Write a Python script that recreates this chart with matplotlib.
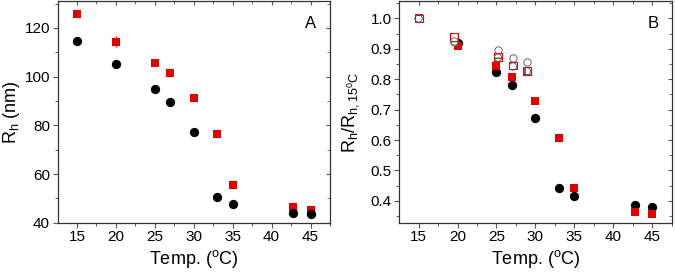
import matplotlib
matplotlib.use("Agg")
import matplotlib.pyplot as plt
from matplotlib.ticker import MultipleLocator

plt.rcParams['font.family'] = ['Liberation Sans', 'DejaVu Sans']
plt.rcParams['mathtext.fontset'] = 'custom'
plt.rcParams['mathtext.rm'] = 'Liberation Sans'
plt.rcParams['mathtext.it'] = 'Liberation Sans'
plt.rcParams['hatch.linewidth'] = 0.8

# Panel A data
temp = [15, 20, 25, 27, 30, 33, 35, 42.8, 45]
rh_black = [114.8, 105.1, 94.8, 89.5, 77.3, 50.7, 47.8, 44.2, 43.7]
rh_red = [125.6, 114.3, 105.6, 101.3, 91.4, 76.6, 55.7, 46.3, 45.2]
rh_red_err = [0, 2.3, 0, 0, 0, 0, 0, 0, 0]

# Panel B data
norm_black = [1.0, 0.918, 0.825, 0.781, 0.673, 0.441, 0.416, 0.386, 0.379]
norm_red = [1.0, 0.910, 0.842, 0.806, 0.728, 0.608, 0.443, 0.364, 0.357]
temp_open = [15, 19.6, 25.2, 27.1, 28.9]
open_grey_upper = [1.0, 0.922, 0.895, 0.870, 0.857]
open_red_sq = [1.0, 0.940, 0.873, 0.845, 0.826]
open_grey_lower = [1.0, 0.924, 0.871, 0.842, 0.826]

RED = '#e00000'

fig = plt.figure(figsize=(6.75, 2.75), dpi=100)
axA = fig.add_axes([0.0855, 0.190, 0.4034, 0.806])
axB = fig.add_axes([0.5916, 0.190, 0.4036, 0.806])


def style(ax, ymaj, ymin):
    for s in ax.spines.values():
        s.set_color('#333333')
        s.set_linewidth(0.9)
    ax.tick_params(which='both', direction='out', colors='#555555', labelcolor='black',
                   labelsize=11, top=False, right=False, pad=2)
    ax.tick_params(which='major', length=3.5, width=0.8)
    ax.tick_params(which='minor', length=2.2, width=0.7)
    ax.xaxis.set_major_locator(MultipleLocator(5))
    ax.xaxis.set_minor_locator(MultipleLocator(2.5))
    ax.yaxis.set_major_locator(MultipleLocator(ymaj))
    ax.yaxis.set_minor_locator(MultipleLocator(ymin))
    ax.set_xlim(12.53, 47.5)
    ax.set_xlabel('Temp. ($^{\\rm o}$C)', fontsize=13)
    ax.xaxis.set_label_coords(0.5, -0.115)
    # mirrored inward ticks on top/right
    secy = ax.secondary_yaxis('right')
    secy.yaxis.set_major_locator(MultipleLocator(ymaj))
    secy.yaxis.set_minor_locator(MultipleLocator(ymin))
    secy.tick_params(which='both', direction='in', colors='#555555', labelright=False)
    secy.tick_params(which='major', length=3)
    secy.tick_params(which='minor', length=2)
    secy.spines['right'].set_visible(False)
    secx = ax.secondary_xaxis('top')
    secx.xaxis.set_major_locator(MultipleLocator(5))
    secx.xaxis.set_minor_locator(MultipleLocator(2.5))
    secx.tick_params(which='both', direction='in', colors='#555555', labeltop=False)
    secx.tick_params(which='major', length=3)
    secx.tick_params(which='minor', length=2)
    secx.spines['top'].set_visible(False)


# Panel A
style(axA, 20, 10)
axA.set_ylim(40, 131)
axA.errorbar(temp, rh_red, yerr=rh_red_err, fmt='s', color=RED, ms=6.4, mew=0,
             ecolor=RED, elinewidth=0.8, capsize=2, zorder=3)
axA.plot(temp, rh_black, 'o', color='black', ms=6.7, mew=0, zorder=4)
axA.set_ylabel('R$_{\\rm h}$ (nm)', fontsize=13)
axA.yaxis.set_label_coords(-0.13, 0.5)
axA.text(0.927, 0.90, 'A', transform=axA.transAxes, fontsize=12, ha='center', va='center')

# Panel B
style(axB, 0.1, 0.05)
axB.set_ylim(0.328, 1.057)
axB.plot(temp, norm_black, 'o', color='black', ms=6.7, mew=0, zorder=3)
axB.plot(temp, norm_red, 's', color=RED, ms=6.4, mew=0, zorder=4)
axB.scatter(temp_open, open_grey_upper, s=28, marker='o', facecolors='white',
            edgecolors='#666666', linewidths=0.7, zorder=5)
axB.scatter(temp_open, open_red_sq, s=32, marker='s', facecolors='white',
            edgecolors=RED, linewidths=0.8, hatch='+', zorder=6)
axB.scatter(temp_open, open_grey_lower, s=28, marker='o', facecolors='none',
            edgecolors='#555555', linewidths=0.6, hatch='+', zorder=7)
axB.set_yticks([0.4, 0.5, 0.6, 0.7, 0.8, 0.9, 1.0])
axB.set_yticklabels(['0.4', '0.5', '0.6', '0.7', '0.8', '0.9', '1.0'])
axB.set_ylabel('R$_{\\rm h}$/R$_{\\rm h,15^0C}$', fontsize=13)
axB.yaxis.set_label_coords(-0.14, 0.5)
axB.text(0.932, 0.90, 'B', transform=axB.transAxes, fontsize=12, ha='center', va='center')

fig.savefig('out.png', dpi=100)
